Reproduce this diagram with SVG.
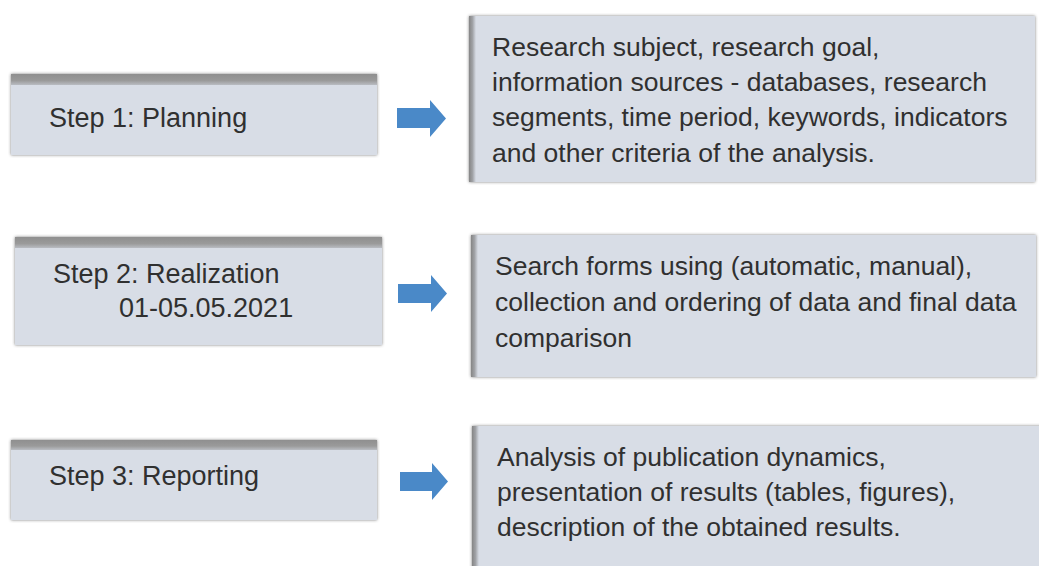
<svg xmlns="http://www.w3.org/2000/svg" width="1039" height="566" viewBox="0 0 1039 566">
<defs>
<style>
.box{fill:#d8dde6;}
.lt{font-family:"Liberation Sans",Arial,sans-serif;font-size:27px;fill:#303030;}
.rt{font-family:"Liberation Sans",Arial,sans-serif;font-size:26.5px;fill:#303030;}
.arrow{fill:#4a89c8;}
</style>
<linearGradient id="topband" x1="0" y1="0" x2="0" y2="1">
<stop offset="0" stop-color="#8f8f8f"/>
<stop offset="0.6" stop-color="#9a9a9a"/>
<stop offset="1" stop-color="#b9bcc2"/>
</linearGradient>
<linearGradient id="leftband" x1="0" y1="0" x2="1" y2="0">
<stop offset="0" stop-color="#858585"/>
<stop offset="0.5" stop-color="#a0a2a6"/>
<stop offset="1" stop-color="#d8dde6"/>
</linearGradient>
<filter id="sh" x="-5%" y="-10%" width="110%" height="120%">
<feDropShadow dx="0" dy="0" stdDeviation="1.6" flood-color="#4a4a4a" flood-opacity="0.75"/>
</filter>
</defs>
<rect width="1039" height="566" fill="#ffffff"/>

<g id="step1">
<rect class="box" x="11" y="74" width="366" height="81" filter="url(#sh)"/>
<rect x="11" y="74" width="366" height="11" fill="url(#topband)"/>
<text class="lt" x="49" y="127">Step 1: Planning</text>
</g>
<g id="step2">
<rect class="box" x="15" y="237" width="367" height="108" filter="url(#sh)"/>
<rect x="15" y="237" width="367" height="11" fill="url(#topband)"/>
<text class="lt" x="53" y="283">Step 2: Realization</text>
<text class="lt" x="119" y="317">01-05.05.2021</text>
</g>
<g id="step3">
<rect class="box" x="11" y="440" width="366" height="80" filter="url(#sh)"/>
<rect x="11" y="440" width="366" height="10" fill="url(#topband)"/>
<text class="lt" x="49" y="485">Step 3: Reporting</text>
</g>

<g id="desc1">
<rect class="box" x="469" y="16" width="566" height="166" filter="url(#sh)"/>
<rect x="469" y="16" width="7" height="166" fill="url(#leftband)"/>
<text class="rt" x="492" y="55.5">Research subject, research goal,</text>
<text class="rt" x="492" y="90.5">information sources - databases, research</text>
<text class="rt" x="492" y="126">segments, time period, keywords, indicators</text>
<text class="rt" x="492" y="161.5">and other criteria of the analysis.</text>
</g>
<g id="desc2">
<rect class="box" x="471" y="235" width="565" height="142" filter="url(#sh)"/>
<rect x="471" y="235" width="7" height="142" fill="url(#leftband)"/>
<text class="rt" x="495" y="275">Search forms using (automatic, manual),</text>
<text class="rt" x="495" y="311">collection and ordering of data and final data</text>
<text class="rt" x="495" y="347">comparison</text>
</g>
<g id="desc3">
<rect class="box" x="472" y="426" width="580" height="160" filter="url(#sh)"/>
<rect x="472" y="426" width="7" height="160" fill="url(#leftband)"/>
<text class="rt" x="497" y="466">Analysis of publication dynamics,</text>
<text class="rt" x="497" y="501">presentation of results (tables, figures),</text>
<text class="rt" x="497" y="536">description of the obtained results.</text>
</g>

<g id="connectors">
<polygon class="arrow" points="397,108 430,108 430,100 446,118.5 430,137 430,128 397,128"/>
<polygon class="arrow" points="398,284 431,284 431,275 447,293.5 431,312 431,303 398,303"/>
<polygon class="arrow" points="400,472 432,472 432,463 448,481.5 432,500 432,491 400,491"/>
</g>
</svg>
